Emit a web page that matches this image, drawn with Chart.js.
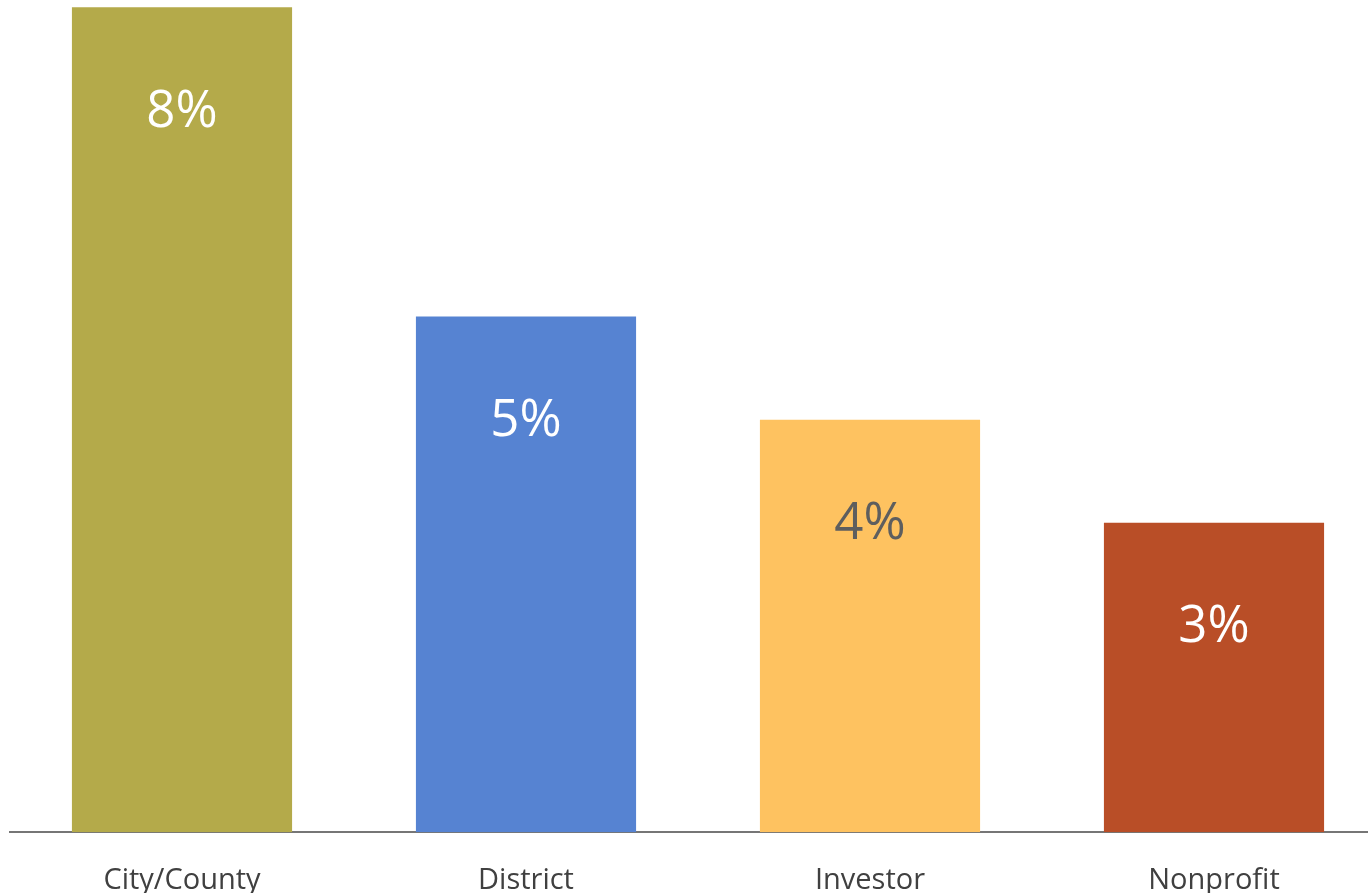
<!DOCTYPE html>
<html>
<head>
<meta charset="utf-8">
<script src="https://cdn.jsdelivr.net/npm/chart.js@4/dist/chart.umd.min.js"></script>
<style>
  html, body { margin: 0; padding: 0; background: #fff; overflow: hidden; }
  #wrap { width: 1386px; height: 933px; }
</style>
</head>
<body>
<div id="wrap"><canvas id="shareChart"></canvas></div>
<script>
// data
const categories = ['City/County', 'District', 'Investor', 'Nonprofit'];
const shares = [8, 5, 4, 3];
const barColors = ['#b4aa4a', '#5683d2', '#fec260', '#b94e27'];
const labelColors = ['#ffffff', '#ffffff', '#5e5e5e', '#ffffff'];

// labels inside the bars
const barLabels = {
  id: 'barLabels',
  afterDatasetsDraw(chart) {
    const ctx = chart.ctx;
    const meta = chart.getDatasetMeta(0);
    ctx.save();
    ctx.font = '51px "Open Sans", sans-serif';
    ctx.textAlign = 'center';
    ctx.textBaseline = 'middle';
    meta.data.forEach((bar, i) => {
      ctx.fillStyle = labelColors[i];
      ctx.fillText(shares[i] + '%', bar.x, bar.y + 105);
    });
    ctx.restore();
  }
};

new Chart(document.getElementById('shareChart'), {
  type: 'bar',
  data: {
    labels: categories,
    datasets: [{
      data: shares,
      backgroundColor: barColors,
      barPercentage: 0.64,
      categoryPercentage: 1
    }]
  },
  options: {
    responsive: true,
    maintainAspectRatio: false,
    animation: false,
    layout: { padding: { left: 10, top: 0, right: 0, bottom: 4 } },
    plugins: {
      legend: { display: false },
      tooltip: { enabled: false }
    },
    scales: {
      x: {
        grid: { display: false, drawTicks: false },
        border: { color: '#767676', width: 2 },
        ticks: {
          color: '#404040',
          padding: 31,
          font: { family: '"Open Sans", sans-serif', size: 29 }
        }
      },
      y: {
        display: false,
        min: 0,
        max: 8.07
      }
    }
  },
  plugins: [barLabels]
});
</script>
</body>
</html>
